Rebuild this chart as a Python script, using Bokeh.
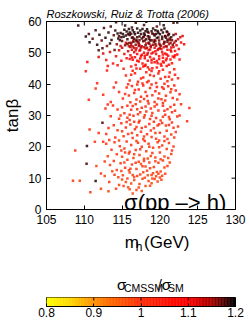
import numpy as np
from bokeh.plotting import figure
from bokeh.models import Label, FixedTicker, ColumnDataSource, LinearColorMapper
from bokeh.layouts import column
from bokeh.embed import file_html
from bokeh.resources import INLINE

FONT = "Liberation Sans"

# ---- data: (m_h [GeV], tan(beta), sigma_CMSSM/sigma_SM) ----
black_sparse = [
    (109.2, 58.7, 1.19), (110.6, 56.0, 1.18), (110.7, 53.4, 1.19), (111.1, 54.5, 1.17), (111.9, 50.8, 1.18),
    (110.2, 55.2, 1.19), (111.5, 57.2, 1.18), (112.0, 55.8, 1.19), (112.3, 53.9, 1.17), (111.7, 52.6, 1.19),
    (112.6, 57.9, 1.18), (112.8, 54.8, 1.19), (113.0, 52.2, 1.16), (112.4, 51.5, 1.18), (113.2, 56.5, 1.19),
    (113.5, 58.4, 1.18), (113.6, 54.1, 1.19), (113.9, 55.6, 1.17), (113.4, 53.0, 1.19), (114.1, 57.1, 1.18),
    (114.3, 52.7, 1.16), (114.5, 54.6, 1.19), (114.0, 50.9, 1.17),
    (114.2, 59.8, 1.19), (116.8, 59.6, 1.18), (118.2, 59.9, 1.19), (121.8, 59.6, 1.18), (122.3, 59.7, 1.19),
    (117.9, 58.9, 1.18), (115.4, 58.7, 1.19), (119.6, 58.4, 1.17), (120.5, 58.8, 1.19), (116.3, 58.1, 1.18),
]
black_dense = [
    (114.8, 56.3, 1.19), (115.0, 53.8, 1.17), (115.2, 55.1, 1.19), (115.4, 52.4, 1.16), (115.6, 56.8, 1.19),
    (115.7, 54.3, 1.18), (115.9, 53.1, 1.16), (116.0, 55.7, 1.19), (116.1, 51.9, 1.15), (116.3, 54.8, 1.18),
    (116.4, 57.2, 1.19), (116.5, 53.5, 1.17), (116.7, 55.9, 1.19), (116.8, 52.6, 1.16), (116.9, 54.1, 1.18),
    (117.1, 56.4, 1.19), (117.2, 53.0, 1.16), (117.3, 55.2, 1.18), (117.5, 51.7, 1.15), (117.6, 54.6, 1.18),
    (117.7, 57.6, 1.19), (117.8, 53.7, 1.17), (118.0, 55.8, 1.19), (118.1, 52.4, 1.16), (118.2, 54.3, 1.18),
    (118.4, 56.7, 1.19), (118.5, 53.2, 1.17), (118.6, 55.1, 1.18), (118.8, 51.9, 1.15), (118.9, 54.0, 1.18),
    (119.0, 56.2, 1.19), (119.2, 53.5, 1.17), (119.3, 55.5, 1.19), (119.4, 52.8, 1.16), (119.6, 54.7, 1.18),
    (119.7, 57.0, 1.19), (119.9, 53.9, 1.17), (120.0, 55.9, 1.19), (120.1, 52.3, 1.16), (120.3, 54.4, 1.18),
    (120.4, 56.5, 1.19), (120.6, 53.3, 1.17), (120.7, 55.3, 1.18), (120.9, 52.0, 1.15), (121.0, 54.2, 1.18),
    (121.2, 56.0, 1.19), (121.4, 53.1, 1.16), (121.5, 55.0, 1.18), (114.7, 54.0, 1.18), (115.3, 57.4, 1.19),
    (116.6, 56.6, 1.19), (117.4, 57.1, 1.19), (118.3, 57.5, 1.19), (119.1, 57.8, 1.19), (120.2, 57.3, 1.19),
    (115.8, 55.9, 1.18), (117.0, 55.0, 1.18), (118.7, 53.9, 1.17), (119.5, 56.0, 1.19), (120.8, 54.8, 1.18),
    (116.2, 53.2, 1.16), (117.9, 56.2, 1.19), (121.1, 55.6, 1.18), (115.1, 56.0, 1.19), (114.6, 55.3, 1.18),
    (119.8, 54.9, 1.18), (118.6, 52.9, 1.16), (117.3, 54.0, 1.17), (116.0, 56.5, 1.19), (121.6, 54.0, 1.17),
    (121.8, 55.7, 1.18), (122.1, 53.8, 1.16),
    (115.5, 55.5, 1.19), (116.2, 56.1, 1.18), (116.9, 53.7, 1.17), (117.5, 56.0, 1.19), (118.0, 53.9, 1.17),
    (118.4, 55.3, 1.18), (118.9, 56.9, 1.19), (119.3, 54.1, 1.17), (119.8, 56.4, 1.19), (120.3, 55.1, 1.18),
    (120.9, 56.8, 1.19), (121.3, 54.6, 1.17), (115.7, 52.8, 1.16), (116.6, 54.5, 1.18), (117.2, 52.2, 1.15),
    (117.8, 55.0, 1.18), (118.6, 54.5, 1.18), (119.1, 52.6, 1.16), (119.9, 53.0, 1.16), (120.5, 52.8, 1.16),
    (121.0, 53.5, 1.17), (115.9, 57.6, 1.19), (117.0, 57.8, 1.19), (118.1, 56.9, 1.19), (119.4, 57.2, 1.19),
    (120.6, 57.8, 1.19), (114.9, 55.0, 1.18), (114.4, 56.2, 1.19), (116.4, 52.0, 1.15), (118.3, 51.6, 1.15),
    (120.0, 51.5, 1.15), (121.7, 52.6, 1.16),
]
black_low = [(110.35, 20.3, 1.19), (110.3, 14.6, 1.18), (111.5, 9.1, 1.19), (112.4, 27.7, 1.18)]

red_pts = [
    (110.4, 47.1, 1.10), (111.9, 48.7, 1.11), (112.9, 47.7, 1.09), (113.8, 46.6, 1.08), (112.5, 49.8, 1.12),
    (113.4, 50.3, 1.12), (114.2, 48.9, 1.10), (114.6, 50.8, 1.12), (113.1, 45.8, 1.08), (114.9, 47.5, 1.09),
    (115.3, 49.6, 1.11), (115.0, 51.6, 1.13), (114.4, 46.0, 1.08), (115.6, 48.3, 1.10), (115.8, 50.5, 1.12),
    (123.2, 52.7, 1.11), (123.0, 55.4, 1.12), (122.8, 53.3, 1.10), (122.5, 51.2, 1.10), (122.3, 49.5, 1.09),
    (122.6, 47.9, 1.08), (122.0, 50.6, 1.10), (122.2, 52.4, 1.11), (121.9, 48.6, 1.09), (122.7, 55.0, 1.12),
    (116.1, 49.2, 1.10), (116.3, 51.0, 1.12), (116.4, 47.8, 1.09), (116.6, 50.2, 1.11), (116.7, 48.6, 1.10),
    (116.9, 51.5, 1.12), (117.0, 49.6, 1.11), (117.2, 47.2, 1.09), (117.3, 50.7, 1.11), (117.5, 48.9, 1.10),
    (117.6, 52.1, 1.13), (117.7, 46.6, 1.08), (117.9, 50.0, 1.11), (118.0, 48.3, 1.10), (118.1, 51.4, 1.12),
    (118.3, 49.4, 1.10), (118.4, 47.5, 1.09), (118.5, 50.8, 1.11), (118.7, 48.7, 1.10), (118.8, 52.3, 1.13),
    (118.9, 46.9, 1.08), (119.1, 50.1, 1.11), (119.2, 48.1, 1.09), (119.3, 51.6, 1.12), (119.5, 49.6, 1.10),
    (119.6, 47.4, 1.09), (119.7, 50.9, 1.12), (119.9, 48.9, 1.10), (120.0, 52.6, 1.13), (120.1, 46.4, 1.08),
    (120.3, 50.3, 1.11), (120.4, 48.4, 1.10), (120.5, 51.8, 1.12), (120.7, 49.8, 1.10), (120.8, 47.6, 1.09),
    (121.0, 51.0, 1.11), (121.1, 49.1, 1.10), (121.2, 52.7, 1.13), (121.4, 47.9, 1.09), (121.5, 50.4, 1.11),
    (121.7, 48.8, 1.10), (121.8, 51.9, 1.12), (116.2, 52.6, 1.13), (117.1, 53.4, 1.13), (118.2, 53.0, 1.13),
    (119.4, 53.8, 1.14), (120.6, 53.5, 1.13), (121.3, 54.1, 1.14), (117.8, 45.6, 1.07), (119.0, 45.1, 1.07),
    (120.2, 45.9, 1.08), (118.6, 44.7, 1.07), (116.8, 46.1, 1.08), (121.6, 46.7, 1.08), (115.9, 52.1, 1.12),
    (116.5, 53.9, 1.13), (117.4, 51.0, 1.11), (118.9, 49.8, 1.10), (119.8, 51.2, 1.11), (120.9, 49.5, 1.10),
    (117.6, 49.4, 1.10), (119.3, 47.0, 1.09), (120.4, 47.2, 1.09), (118.1, 46.2, 1.08), (116.0, 48.0, 1.09),
    (121.9, 53.2, 1.12), (122.4, 54.3, 1.12), (115.5, 53.2, 1.13), (114.8, 52.2, 1.12), (120.7, 55.4, 1.14),
    (119.2, 55.9, 1.14), (117.9, 55.2, 1.14), (116.4, 55.0, 1.14), (121.0, 56.6, 1.14), (122.1, 56.0, 1.13),
    (118.5, 56.4, 1.14),
    (116.3, 48.5, 1.10), (116.8, 50.8, 1.11), (117.4, 48.2, 1.10), (117.9, 51.8, 1.12), (118.4, 49.9, 1.11),
    (118.9, 47.8, 1.09), (119.4, 50.5, 1.11), (119.9, 48.0, 1.09), (120.4, 49.5, 1.10), (120.9, 48.2, 1.09),
    (121.4, 50.9, 1.11), (122.0, 49.2, 1.10), (116.6, 51.6, 1.12), (117.3, 52.5, 1.12), (118.0, 49.1, 1.10),
    (118.7, 51.1, 1.11), (119.5, 52.3, 1.12), (120.2, 51.2, 1.11), (120.8, 52.1, 1.12), (121.5, 51.7, 1.12),
    (117.0, 47.5, 1.09), (119.7, 46.7, 1.08), (121.2, 46.2, 1.08), (116.9, 45.0, 1.07), (118.4, 45.4, 1.07),
    (120.5, 46.9, 1.08),
]

orange_hi = [
    (110.2, 44.1, 1.04), (113.0, 44.4, 1.05), (116.4, 44.3, 1.06), (111.7, 40.3, 1.03), (114.2, 40.5, 1.04),
    (115.5, 42.8, 1.05), (116.0, 41.2, 1.03), (116.7, 43.5, 1.06), (117.1, 40.8, 1.04), (117.4, 44.9, 1.07),
    (117.8, 42.1, 1.05), (118.2, 43.8, 1.06), (118.5, 41.0, 1.03), (118.9, 44.2, 1.07), (119.2, 42.6, 1.04),
    (119.5, 40.4, 1.03), (119.8, 43.4, 1.06), (120.1, 41.7, 1.04), (120.4, 44.6, 1.07), (120.7, 42.3, 1.05),
    (121.0, 40.9, 1.03), (121.3, 43.7, 1.05), (121.6, 41.5, 1.04), (122.0, 43.0, 1.06), (122.4, 41.9, 1.04),
    (116.2, 45.6, 1.07), (118.0, 45.9, 1.08), (119.6, 45.3, 1.07), (120.9, 45.8, 1.08), (121.9, 44.8, 1.06),
    (115.2, 44.9, 1.05), (117.7, 40.2, 1.03), (120.6, 40.1, 1.04),
    (111.5, 38.6, 1.02), (112.5, 36.6, 1.03), (110.6, 35.0, 1.02), (115.1, 35.4, 1.03), (115.6, 38.9, 1.04),
    (115.9, 36.4, 1.02), (116.3, 39.4, 1.04), (116.6, 37.2, 1.03), (116.9, 35.1, 1.02), (117.2, 38.3, 1.04),
    (117.5, 36.0, 1.03), (117.8, 39.6, 1.05), (118.1, 37.5, 1.02), (118.4, 34.6, 1.03), (118.7, 38.8, 1.04),
    (119.0, 36.5, 1.02), (119.3, 34.3, 1.03), (119.6, 39.1, 1.05), (119.9, 37.0, 1.03), (120.2, 35.2, 1.02),
    (120.5, 38.5, 1.04), (120.8, 36.3, 1.03), (121.1, 39.3, 1.04), (121.4, 37.4, 1.02), (121.7, 35.6, 1.03),
    (122.1, 38.0, 1.04), (122.6, 36.8, 1.03), (116.1, 34.2, 1.02), (117.0, 39.9, 1.04), (118.9, 39.9, 1.05),
    (120.4, 34.0, 1.02), (114.6, 37.5, 1.03), (113.9, 38.9, 1.03), (121.9, 39.6, 1.04), (117.4, 34.5, 1.02),
    (119.8, 35.4, 1.03), (118.3, 36.2, 1.02),
]
orange_mid = [
    (112.8, 32.2, 1.02), (113.1, 33.5, 1.03), (113.5, 34.3, 1.02), (113.8, 33.2, 1.03), (114.4, 31.9, 1.02),
    (114.6, 29.0, 1.01), (115.3, 30.7, 1.02), (115.7, 33.1, 1.03), (116.0, 28.6, 1.01), (116.2, 31.8, 1.02),
    (116.5, 29.9, 1.03), (116.8, 33.6, 1.02), (117.1, 30.4, 1.01), (117.3, 28.3, 1.02), (117.6, 32.5, 1.03),
    (117.9, 29.4, 1.02), (118.2, 31.3, 1.01), (118.5, 33.8, 1.03), (118.7, 28.9, 1.02), (119.0, 30.8, 1.01),
    (119.3, 32.9, 1.02), (119.5, 29.2, 1.03), (119.8, 31.6, 1.02), (120.1, 28.4, 1.01), (120.4, 33.1, 1.03),
    (120.7, 30.2, 1.02), (121.0, 32.0, 1.02), (121.3, 28.8, 1.01), (121.6, 31.0, 1.03), (121.9, 33.4, 1.02),
    (122.3, 29.7, 1.02), (123.9, 32.4, 1.02), (123.6, 28.2, 1.01), (122.6, 30.0, 1.02), (115.0, 32.6, 1.02),
    (118.0, 30.1, 1.01), (119.2, 28.0, 1.02), (120.6, 31.5, 1.03), (117.0, 32.0, 1.02), (116.0, 30.2, 1.01),
    (118.8, 32.2, 1.02), (121.2, 29.5, 1.01),
    (110.7, 25.5, 1.01), (111.9, 24.4, 1.02), (113.2, 26.0, 1.01), (113.9, 26.9, 1.02), (114.4, 25.3, 1.01),
    (114.9, 27.5, 1.02), (115.2, 23.4, 1.01), (115.5, 26.2, 1.02), (115.8, 24.1, 1.00), (116.1, 27.1, 1.02),
    (116.4, 22.8, 1.01), (116.7, 25.6, 1.02), (117.0, 23.7, 1.00), (117.2, 27.8, 1.02), (117.5, 24.8, 1.01),
    (117.8, 22.4, 1.00), (118.1, 26.4, 1.02), (118.3, 24.0, 1.01), (118.6, 27.3, 1.02), (118.9, 23.1, 1.00),
    (119.2, 25.9, 1.01), (119.5, 22.6, 1.00), (119.7, 26.8, 1.02), (120.0, 24.5, 1.01), (120.3, 27.6, 1.02),
    (120.6, 23.3, 1.00), (120.9, 25.1, 1.01), (121.2, 27.0, 1.02), (121.5, 23.9, 1.01), (121.8, 26.1, 1.01),
    (122.1, 24.7, 1.00), (114.1, 23.0, 1.01), (113.3, 22.2, 1.00), (116.9, 26.3, 1.01), (119.9, 22.0, 1.00),
    (118.8, 25.2, 1.01), (117.6, 26.0, 1.02), (121.0, 22.5, 1.00), (115.6, 27.9, 1.02),
    (111.4, 21.6, 1.00), (112.5, 21.6, 1.01), (112.9, 21.0, 1.00), (108.8, 18.8, 1.01), (113.6, 19.1, 1.00),
    (114.0, 21.5, 1.01), (114.3, 17.6, 1.00), (114.7, 20.2, 1.01), (115.0, 16.8, 0.99), (115.3, 19.5, 1.00),
    (115.6, 21.7, 1.01), (115.9, 17.9, 1.00), (116.2, 20.6, 1.01), (116.5, 16.4, 0.99), (116.8, 19.0, 1.00),
    (117.1, 21.3, 1.01), (117.3, 17.4, 1.00), (117.6, 20.0, 1.00), (117.9, 16.2, 0.99), (118.2, 18.6, 1.00),
    (118.5, 21.0, 1.01), (118.8, 17.1, 0.99), (119.1, 19.7, 1.00), (119.4, 16.6, 0.99), (119.7, 21.5, 1.01),
    (120.0, 18.2, 1.00), (120.3, 20.4, 1.01), (120.6, 16.9, 0.99), (120.9, 19.3, 1.00), (121.2, 21.2, 1.01),
    (121.5, 17.7, 1.00), (113.1, 17.0, 0.99), (116.0, 18.4, 1.00), (117.4, 19.2, 1.00), (118.0, 21.9, 1.01),
    (119.0, 18.0, 1.00), (120.1, 16.0, 0.99), (115.4, 18.2, 1.00), (121.8, 20.1, 1.00),
]
orange_lo = [
    (111.6, 13.9, 0.99), (112.2, 11.5, 1.00), (112.7, 10.7, 0.99), (114.0, 11.1, 1.00), (113.4, 14.2, 0.99),
    (113.9, 15.5, 1.00), (114.3, 12.6, 0.99), (114.8, 14.8, 1.00), (115.1, 10.9, 0.99), (115.4, 13.3, 1.00),
    (115.7, 15.9, 1.00), (116.0, 11.8, 0.99), (116.3, 14.4, 1.00), (116.6, 10.4, 0.98), (116.9, 12.9, 0.99),
    (117.2, 15.2, 1.00), (117.4, 11.2, 0.99), (117.7, 13.8, 1.00), (118.0, 10.1, 0.98), (118.3, 12.4, 0.99),
    (118.6, 15.0, 1.00), (118.9, 11.0, 0.99), (119.2, 13.6, 1.00), (119.5, 10.6, 0.99), (119.8, 14.9, 1.00),
    (120.1, 12.1, 0.99), (120.4, 15.6, 1.00), (120.7, 11.4, 0.99), (121.0, 13.9, 1.00), (114.5, 10.3, 0.99),
    (116.1, 13.0, 1.00), (117.5, 14.5, 0.99), (118.7, 13.2, 1.00), (119.6, 12.0, 0.99), (115.9, 12.5, 0.99),
    (117.9, 15.5, 1.00), (120.3, 10.8, 0.99),
    (108.5, 9.2, 1.00), (109.4, 9.2, 0.99), (110.8, 5.5, 1.00), (112.2, 6.6, 0.99), (113.2, 5.8, 0.99),
    (113.3, 8.8, 1.00), (114.2, 6.6, 0.99), (114.6, 7.8, 0.99), (115.5, 8.8, 0.99), (116.2, 8.3, 0.98),
    (115.0, 9.6, 0.99), (115.8, 7.1, 0.98), (116.6, 9.4, 0.99), (116.9, 6.2, 0.98), (117.3, 8.1, 0.99),
    (117.7, 9.8, 0.99), (118.1, 7.5, 0.98), (118.5, 9.1, 0.99), (118.9, 8.4, 0.98), (119.3, 9.7, 0.99),
    (116.4, 5.1, 0.98), (117.6, 5.9, 0.98), (119.7, 8.9, 0.99), (120.2, 9.5, 0.99),
]
orange_extra = [
    (116.2, 43.0, 1.05), (117.5, 41.8, 1.04), (118.7, 42.9, 1.05), (119.9, 44.1, 1.06), (121.2, 42.4, 1.05),
    (115.8, 40.0, 1.03), (118.3, 40.6, 1.03), (120.3, 39.0, 1.04), (116.7, 38.1, 1.03), (119.4, 37.7, 1.03),
    (121.5, 38.4, 1.03), (115.4, 36.9, 1.02), (117.9, 35.3, 1.02), (120.7, 34.8, 1.02), (122.3, 35.1, 1.02),
    (116.4, 33.0, 1.02), (118.1, 32.9, 1.02), (119.6, 33.5, 1.02), (121.4, 32.7, 1.02), (115.7, 29.3, 1.01),
    (117.4, 31.0, 1.02), (118.9, 29.9, 1.01), (120.4, 29.6, 1.01), (122.0, 31.5, 1.02), (114.8, 30.0, 1.01),
    (116.6, 28.0, 1.01), (119.9, 27.2, 1.01), (121.6, 27.8, 1.01), (115.0, 25.0, 1.01), (116.3, 24.4, 1.00),
    (117.9, 23.3, 1.00), (119.4, 24.4, 1.01), (120.8, 26.8, 1.01), (122.4, 26.5, 1.01), (114.6, 22.0, 1.00),
    (116.9, 21.9, 1.00), (118.6, 20.0, 1.00), (120.6, 21.9, 1.00), (121.6, 18.8, 1.00), (114.9, 18.8, 1.00),
    (116.6, 17.6, 0.99), (118.4, 16.3, 0.99), (119.9, 19.9, 1.00), (121.1, 16.4, 0.99), (115.3, 15.0, 0.99),
    (116.8, 14.9, 1.00), (118.1, 13.7, 0.99), (119.4, 15.4, 0.99), (120.6, 13.4, 0.99), (114.9, 12.3, 0.99),
    (116.4, 11.0, 0.99), (117.8, 11.9, 0.99), (119.1, 11.6, 0.99), (120.0, 10.2, 0.99), (115.7, 9.9, 0.99),
    (117.0, 10.7, 0.99), (118.4, 10.9, 0.98), (119.0, 9.9, 0.98), (117.2, 7.0, 0.98), (118.7, 7.6, 0.98),
    (116.0, 6.5, 0.98), (115.2, 7.5, 0.99), (119.8, 11.4, 0.99), (121.3, 15.0, 0.99), (121.9, 23.0, 1.00),
    (122.8, 33.6, 1.02), (113.5, 29.8, 1.01), (112.9, 24.1, 1.01), (113.7, 12.2, 0.99), (112.7, 15.3, 1.00),
]

x_ticks = [105, 110, 115, 120, 125, 130]
y_ticks = [0, 10, 20, 30, 40, 50, 60]
cbar_ticks = [0.8, 0.9, 1.0, 1.1, 1.2]
cbar_labels = ["0.8", "0.9", "1", "1.1", "1.2"]

# ---- colour map (yellow -> orange -> red -> black) ----
stops_v = [0.8, 0.85, 0.9, 0.95, 1.0, 1.05, 1.1, 1.15, 1.2]
stops_r = [255, 255, 255, 255, 255, 255, 255, 170, 0]
stops_g = [255, 215, 145, 90, 48, 20, 0, 0, 0]
stops_b = [0, 0, 0, 0, 10, 5, 0, 0, 0]
NPAL = 128
pal_vals = np.linspace(0.8, 1.2, NPAL)
palette = ["#%02x%02x%02x" % (int(round(np.interp(v, stops_v, stops_r))),
                              int(round(np.interp(v, stops_v, stops_g))),
                              int(round(np.interp(v, stops_v, stops_b)))) for v in pal_vals]
mapper = LinearColorMapper(palette=palette, low=0.8, high=1.2)


def src_of(pts):
    return ColumnDataSource(dict(x=[q[0] for q in pts], y=[q[1] for q in pts], r=[q[2] for q in pts]))


def style_axis(ax, ticks, tick_in=4):
    ax.ticker = FixedTicker(ticks=ticks)
    ax.major_tick_in = tick_in
    ax.major_tick_out = 0
    ax.minor_tick_in = 0
    ax.minor_tick_out = 0
    ax.axis_line_color = "black"
    ax.major_tick_line_color = "black"
    ax.major_label_text_font = FONT
    ax.major_label_text_font_size = "12px"
    ax.major_label_text_color = "black"


def plain(fig):
    fig.xgrid.visible = False
    fig.ygrid.visible = False
    fig.background_fill_color = "white"
    fig.border_fill_color = "white"


# ---- main panel ----
p = figure(width=249, height=228, x_range=(105, 130), y_range=(0, 60),
           output_backend="svg", toolbar_location=None,
           min_border_left=45, min_border_right=14, min_border_top=21, min_border_bottom=19)
plain(p)
p.outline_line_color = "black"
p.outline_line_width = 1
style_axis(p.xaxis[0], x_ticks)
style_axis(p.yaxis[0], y_ticks)
p.xaxis[0].major_label_standoff = 5
p.yaxis[0].major_label_standoff = 5
p.yaxis[0].axis_label = "tanβ"
p.yaxis[0].axis_label_text_font = FONT
p.yaxis[0].axis_label_text_font_size = "17px"
p.yaxis[0].axis_label_text_font_style = "normal"
p.yaxis[0].axis_label_text_color = "black"
p.yaxis[0].axis_label_standoff = 3

p.title.text = "Roszkowski, Ruiz & Trotta (2006)"
p.title.text_font = FONT
p.title.text_font_size = "11px"
p.title.text_font_style = "italic"
p.title.text_color = "black"
p.title.align = "left"
p.title.standoff = 3

# inward ticks on the top and right edges of the box
tick_len_y = 4 * 60 / 188.0
tick_len_x = 4 * 25 / 190.0
p.segment(x0=x_ticks, y0=[60] * len(x_ticks), x1=x_ticks, y1=[60 - tick_len_y] * len(x_ticks),
          line_color="black", line_width=1)
p.segment(x0=[130] * len(y_ticks), y0=y_ticks, x1=[130 - tick_len_x] * len(y_ticks), y1=y_ticks,
          line_color="black", line_width=1)

for pts in (orange_hi, orange_mid, orange_lo, orange_extra, black_low, red_pts, black_sparse, black_dense):
    p.scatter("x", "y", source=src_of(pts), marker="square", size=2.5, line_color=None,
              fill_alpha=0.85, fill_color={"field": "r", "transform": mapper})

p.add_layout(Label(x=115.26, y=2.23, text="σ(pp –> h)", text_font=FONT, text_font_size="22px",
                   text_baseline="alphabetic", text_color="black"))

# ---- text row: x-axis title of the main panel and the colour-bar title (pixel coordinates) ----
ROW_TOP = 228
LAB_H = 68
pt = figure(width=249, height=LAB_H, x_range=(0, 249), y_range=(0, LAB_H),
            x_axis_location=None, y_axis_location=None, output_backend="svg", toolbar_location=None,
            min_border_left=0, min_border_right=0, min_border_top=0, min_border_bottom=0)
plain(pt)
pt.outline_line_color = None


def lab(pxx, pxy, txt, size):
    pt.add_layout(Label(x=pxx, y=ROW_TOP + LAB_H - pxy, text=txt, text_font=FONT, text_font_size=size,
                        text_baseline="alphabetic", text_color="black"))


lab(103, 242, "m", "17px")
lab(117.5, 246, "h", "12px")
lab(128.5, 242, "(GeV)", "17px")
lab(93, 284, "σ", "15px")
lab(102, 287, "CMSSM", "10.5px")
lab(146.5, 284, "/σ", "15px")
lab(160, 287, "SM", "10.5px")

# ---- colour bar ----
p2 = figure(width=249, height=26, x_range=(0.8, 1.2), y_range=(0, 1), y_axis_location=None,
            output_backend="svg", toolbar_location=None,
            min_border_left=37, min_border_right=12, min_border_top=1, min_border_bottom=16)
plain(p2)
p2.outline_line_color = "black"
p2.outline_line_width = 1
edges = np.linspace(0.8, 1.2, NPAL + 1)
p2.quad(left=edges[:-1], right=edges[1:], bottom=0, top=1, fill_color=palette, line_color=palette,
        line_width=0.5)
style_axis(p2.xaxis[0], cbar_ticks, tick_in=3)
p2.xaxis[0].major_label_overrides = {t: s for t, s in zip(cbar_ticks, cbar_labels)}
p2.xaxis[0].major_label_standoff = 1
p2.segment(x0=cbar_ticks, y0=[1] * len(cbar_ticks), x1=cbar_ticks, y1=[0.67] * len(cbar_ticks),
           line_color="black", line_width=1)

layout = column(p, pt, p2)
open("out.html", "w").write(file_html(layout, INLINE))
